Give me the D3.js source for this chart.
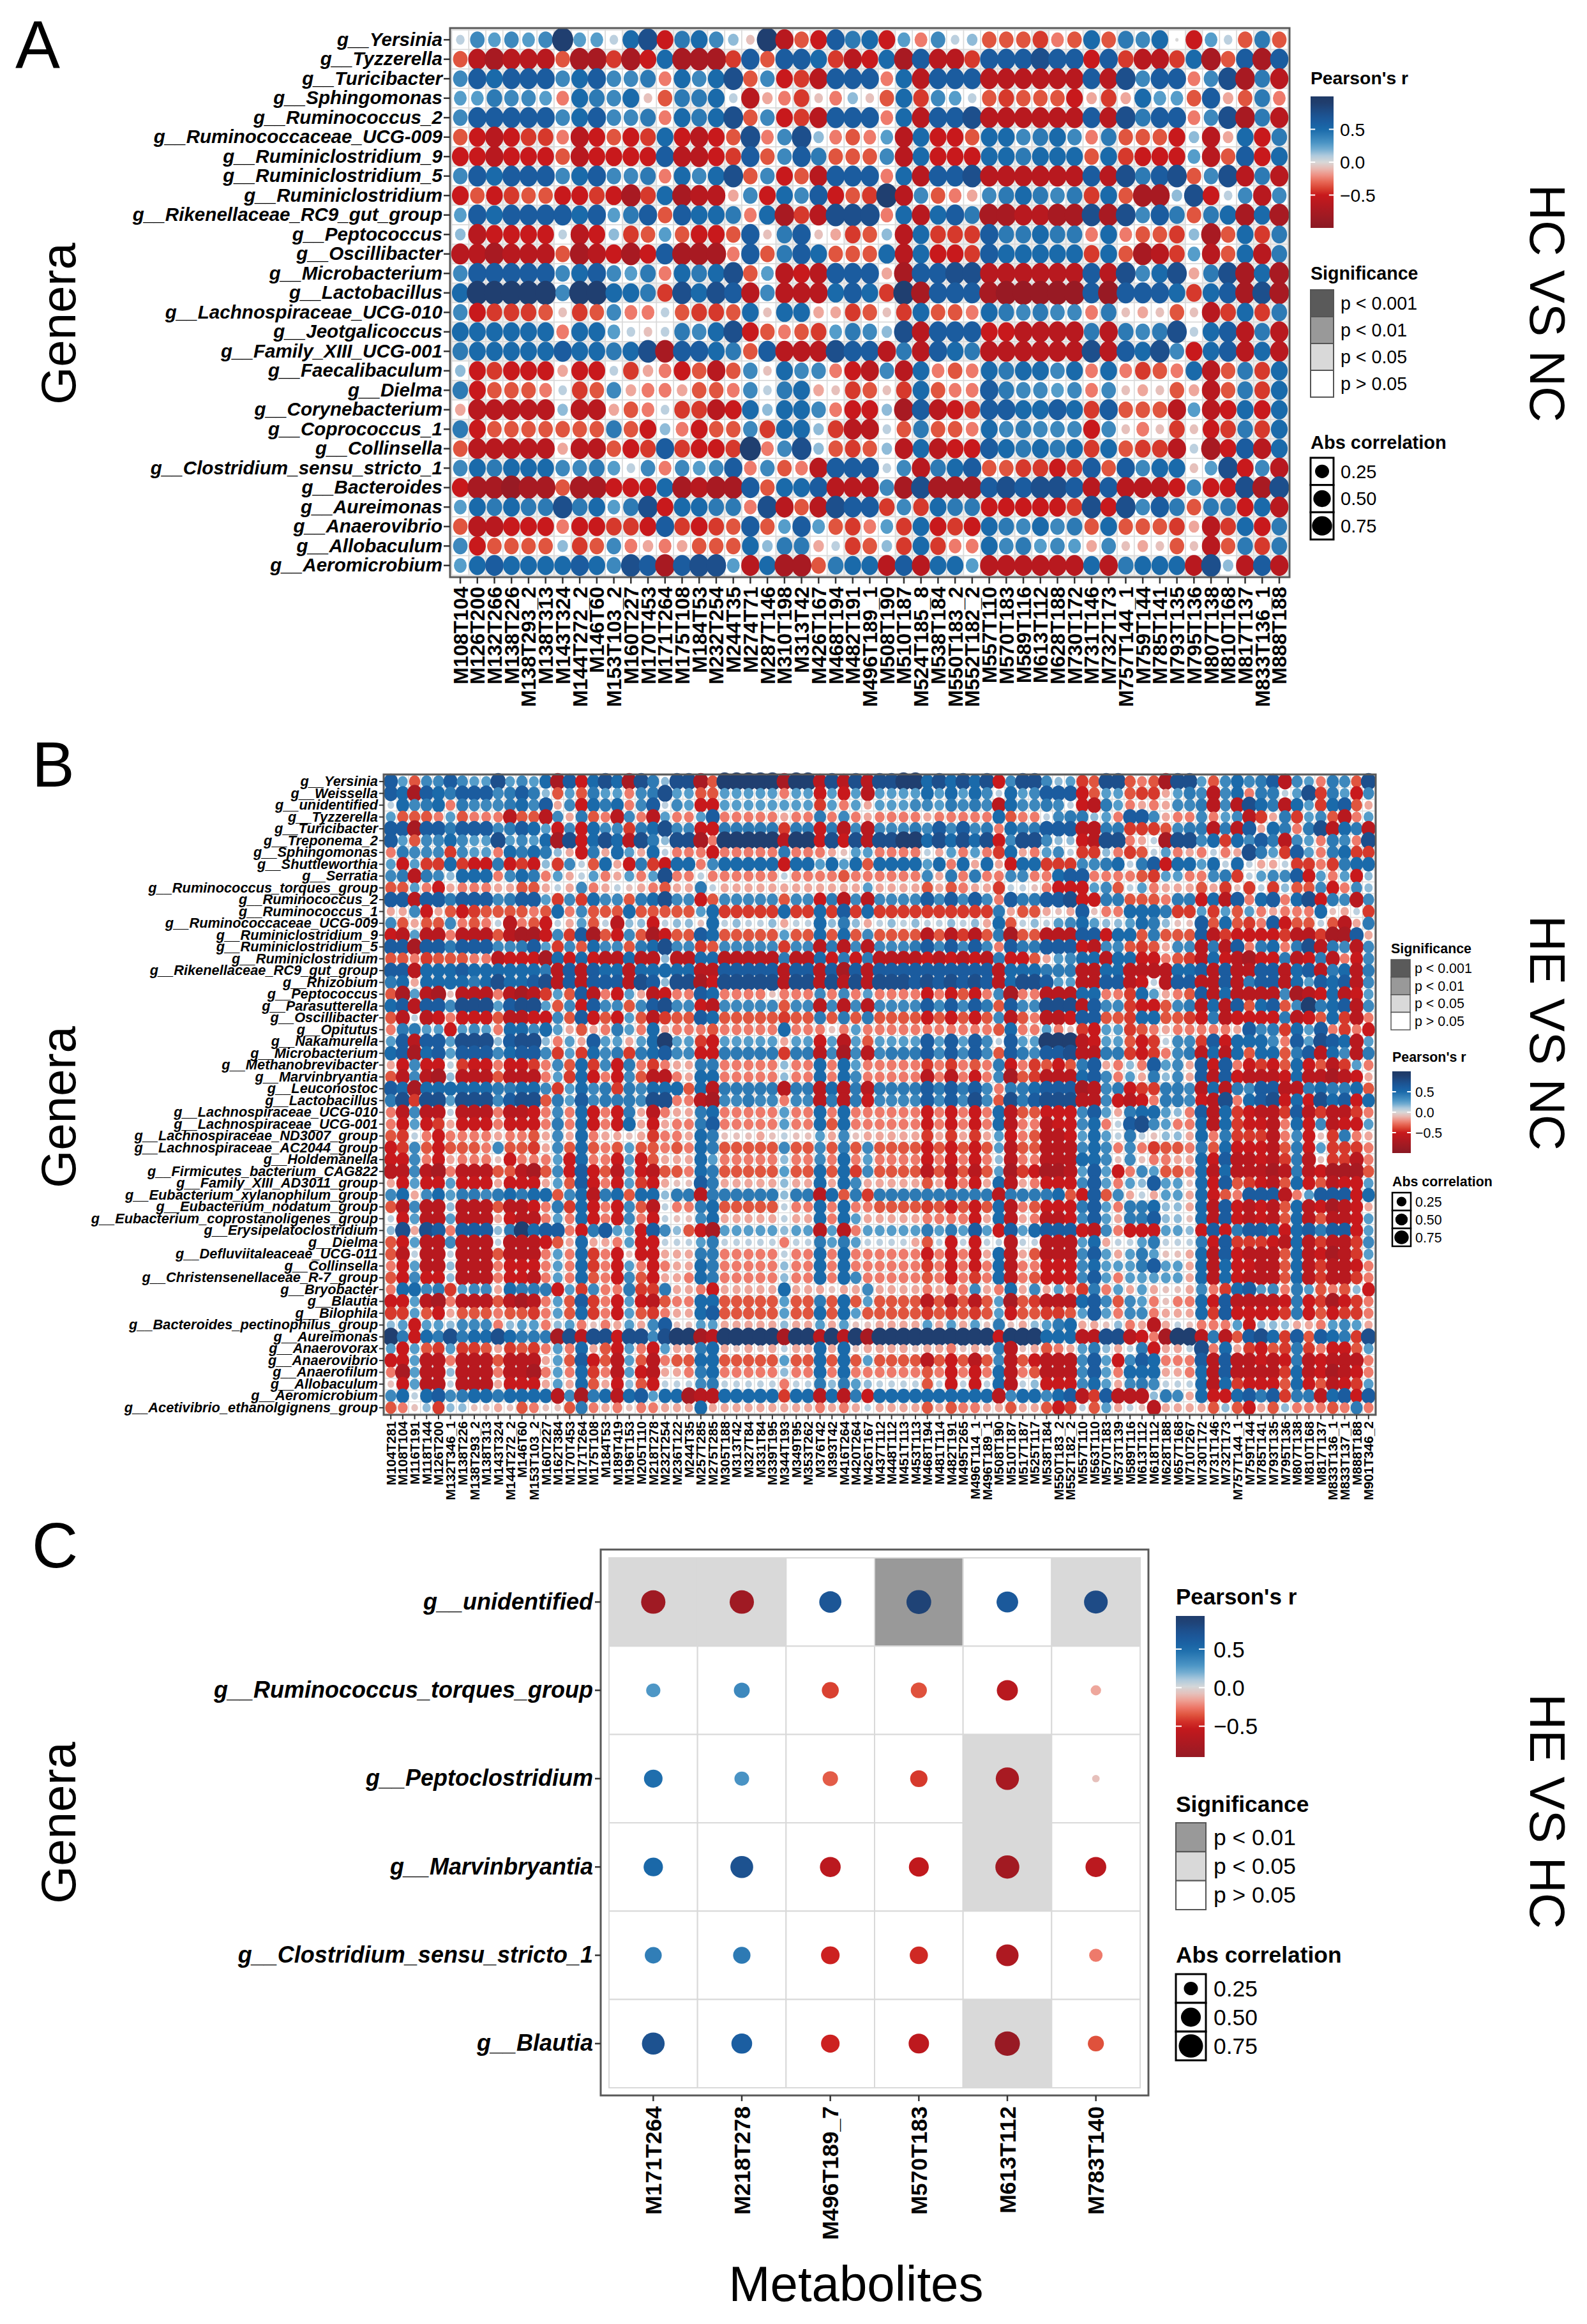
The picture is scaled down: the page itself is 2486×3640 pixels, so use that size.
<!DOCTYPE html>
<html><head><meta charset="utf-8">
<script src="https://cdn.jsdelivr.net/npm/d3@7/dist/d3.min.js"></script>
<style>html,body{margin:0;padding:0;background:#fff}svg{display:block}text{font-family:"Liberation Sans",Arial,sans-serif;fill:#000}</style>
</head><body><script>
// Panel A
const rowsA=["g__Yersinia","g__Tyzzerella","g__Turicibacter","g__Sphingomonas","g__Ruminococcus_2","g__Ruminococcaceae_UCG-009","g__Ruminiclostridium_9","g__Ruminiclostridium_5","g__Ruminiclostridium","g__Rikenellaceae_RC9_gut_group","g__Peptococcus","g__Oscillibacter","g__Microbacterium","g__Lactobacillus","g__Lachnospiraceae_UCG-010","g__Jeotgalicoccus","g__Family_XIII_UCG-001","g__Faecalibaculum","g__Dielma","g__Corynebacterium","g__Coprococcus_1","g__Collinsella","g__Clostridium_sensu_stricto_1","g__Bacteroides","g__Aureimonas","g__Anaerovibrio","g__Allobaculum","g__Aeromicrobium"];
const colsA=["M108T104","M126T200","M132T266","M138T226","M138T293_2","M138T313","M143T324","M144T272_2","M146T60","M153T103_2","M160T227","M170T453","M171T264","M175T108","M184T53","M232T254","M244T35","M274T71","M287T146","M310T198","M313T42","M426T167","M468T194","M482T191","M496T189_1","M508T190","M510T187","M524T185_8","M538T184","M550T183_2","M552T182_2","M557T110","M570T183","M589T116","M613T112","M628T188","M730T172","M731T146","M732T173","M757T144_1","M759T144","M785T141","M793T135","M795T136","M807T138","M810T168","M817T137","M833T136_1","M888T188"];
// one character per cell: digits = positive r level, letters a..i = negative r level
const valuesA=[
"1434349331 68f5642a9g df756f3c41 2dddecd6d5 460f31d5d",
"dghgggdhhe hf6hhhe7d7 76egf6h7gg e777877f7e gge6hd7h7",
"4767774674 45c6468d4f eg777c6g77 7gggggg7g8 477c48h5g",
"335443c654 6ad5561gbc eac2ad6e43 1dedddfbeb 633d7bd5c",
"4777774674 45c6568d4f eg777c6g77 8gggggg7g8 577c48h5g",
"dfgfeecgfd fe6fgfd8c4 82cdc3g6ff d664564c5d ddf2gb6f5",
"ffgfffdgff ff7ggfe7d4 75ddd4g6ff f665666d6e fff3gd7f6",
"4767774674 45c6468d4f dg777c6g77 8gggggg7g8 578d48g5g",
"fdfeddffef he6hggb4f6 47fde9g4dc b456545e6d hh28f14g4",
"3767777673 57d7665c6h eg888c6g67 5hhgghh8h8 475d56h6h",
"2gffff1gf2 ed3dffd7a5 7abed2g6ee e755655c6c dde2hd6e5",
"gghgggdhgf hf7hhhc7d5 76ddd6g6ff e766666e6d hge3gd6g5",
"4777774674 35c6568d3g fg777bh778 8gggggg7g8 468b58h6h",
"6999994996 65e8687g4g gg676e9h77 7hiiiii7i7 776e67h8h",
"4feeedaed4 cc1deed6a6 6bbedae6dd c654544c5a badage6e5",
"666666c663 1a15468fdc de35428g77 7ffgggg5g5 458167g5g",
"5666667665 68h7765d7g gg877g5g76 5gggggg8g7 684f67g6g",
"2fefffbff1 ebcfdgd4a6 44cfg4g6cd c656646c6c edc6gd5e6",
"5fdddc1ed4 bccbddc415 6baedae6dc c754434c4a badbgd5e6",
"bggggg2ggb dc1eegf626 64cff2h7gf e776676e7d ddg3gf6f6",
"5fddddddd5 df2cfdd4e6 62egg1d5dd c645444f4a caeafe5e6",
"dgggggbggd fe7effe9c4 82ded2g6gf f765656e6d eeg1hf7g6",
"4656664453 14c4347c4d cg77714g56 7ddeefe7d7 466a38f4g",
"fhhihhdhhf ff6hghh7d6 67ggg4h8hh h787887g7g ggf4ff8h8",
"3656558563 58f6655c8g dg877e4e65 5fffffe8f8 475d55f6g",
"dggfffcffe ef7efed7d3 73dec3e6fe f654645d6d ddebge6f5",
"4fdddd2ed4 cbcbddd625 5b1ed2e6ec c645343b4a badagd5e5",
"3676666764 87h7883g6h hd566g7g66 3gggggg6g5 666g82g7g"];
// Panel B
const rowsB=["g__Yersinia","g__Weissella","g__unidentified","g__Tyzzerella","g__Turicibacter","g__Treponema_2","g__Sphingomonas","g__Shuttleworthia","g__Serratia","g__Ruminococcus_torques_group","g__Ruminococcus_2","g__Ruminococcus_1","g__Ruminococcaceae_UCG-009","g__Ruminiclostridium_9","g__Ruminiclostridium_5","g__Ruminiclostridium","g__Rikenellaceae_RC9_gut_group","g__Rhizobium","g__Peptococcus","g__Parasutterella","g__Oscillibacter","g__Opitutus","g__Nakamurella","g__Microbacterium","g__Methanobrevibacter","g__Marvinbryantia","g__Leuconostoc","g__Lactobacillus","g__Lachnospiraceae_UCG-010","g__Lachnospiraceae_UCG-001","g__Lachnospiraceae_ND3007_group","g__Lachnospiraceae_AC2044_group","g__Holdemanella","g__Firmicutes_bacterium_CAG822","g__Family_XIII_AD3011_group","g__Eubacterium_xylanophilum_group","g__Eubacterium_nodatum_group","g__Eubacterium_coprostanoligenes_group","g__Erysipelatoclostridium","g__Dielma","g__Defluviitaleaceae_UCG-011","g__Collinsella","g__Christensenellaceae_R-7_group","g__Bryobacter","g__Blautia","g__Bilophila","g__Bacteroides_pectinophilus_group","g__Aureimonas","g__Anaerovorax","g__Anaerovibrio","g__Anaerofilum","g__Allobaculum","g__Aeromicrobium","g__Acetivibrio_ethanolgignens_group"];
const colsB=["M104T281","M108T104","M116T191","M118T144","M126T200","M132T346_1","M138T226","M138T293_2","M138T313","M143T324","M144T272_2","M146T60","M153T103_2","M160T227","M162T384","M170T453","M171T264","M175T108","M184T53","M189T419","M196T153","M205T110","M218T278","M232T254","M236T122","M244T35","M257T285","M275T285","M305T188","M313T42","M327T84","M331T84","M339T195","M344T193","M349T95","M353T262","M376T42","M393T42","M416T264","M420T264","M426T167","M437T112","M448T112","M451T113","M453T113","M468T194","M481T114","M482T191","M495T265","M496T114_1","M496T189_1","M508T190","M510T187","M517T187","M525T117","M538T184","M550T183_2","M552T182_2","M557T110","M563T110","M570T183","M573T139","M589T116","M613T112","M618T112","M628T188","M657T168","M710T267","M730T172","M731T146","M732T173","M757T144_1","M759T144","M785T141","M793T135","M795T136","M807T138","M810T168","M817T137","M833T136_1","M833T137_1","M888T188","M901T346_2"];
const valuesB=[
"73d4474338 3436h7f686 h85288hd99 999h99g8g8 g88 99686868f4 88423ed88d cdh883d464 57g43c54d8",
"76h7657774 5752d3d533 c45833dd33 333c33f3f3 g33 3363636416 34777fd33d eeb354g46c 55138e53f4",
"16456c5444 5647b4f656 c47143ff33 333333e3c3 b33 34435454g6 44541fg53c bcb445g4g8 65g63e67db",
"3dddc3dccc gddg4b5dcg 4cg3cc37cc cccbcc5c4c bcc ccbccccc6d cc145523c7 74bcc4c34g eb5e34dgc3",
"77h7757774 5763f4f644 e56844ff55 555e55f5g4 g44 45474745c6 55777gg55e eed455g5g7 b65c58g65g",
"73d4464338 3436h8f686 g85288hc99 999g99f8f8 g88 99686868f4 88422fg88c b1h8846e64 75g43c54c8",
"c5444e433c 65652bf5b6 3b61cccfcc ccc5cccba3 3cc cc1b3c3ce6 bc341ee2ce d13cbc1cb8 53e73c56ee",
"3f3ee6eff5 fef2e41d6b f5ef66c466 666f663636 d66 6636c6b6bf 66eee44561 57f6636161 bb1eece566",
"45g542666c 465c3b13cb 3c38cc1ccc ccc1ccccdc ccc cc4b5c5cc4 4cc677cccc de33cc45e1 3447f3c3f2",
"dd3cfbcccb bddb1b4cb1 abcdbb51bb bbbbbbbbbb 3bb bbdbdcbbe1 1acfff34d1 3cbbbdbeae 1e2dd4fc42",
"77g7757774 5773e4e644 d56844fd44 444d44f5g4 g44 44747474c7 55778ff55d ddc55f6g7c 67c68f54g4",
"bb4fbdfedd ddcd6c4ddd 6ddddd36ee eee6ee6e7e 6ee eeeeeeee5b ddbab7acc6 665ee3e3d3 cbccc6ab1e",
"4dbdd4cdc1 gcdf1b3d1g 22f122a612 112b116252 b12 1211212b6d 1213463223 652aa7d6de c7fdd1dgb5",
"fg3ggcgggd ghhf4e7hdf 4dhfdd76dd ddd3dd6d6d 4dd ddgdgegd5h ddggg77f66 d5ddd7geff ffeggehh7b",
"77h7757774 4573e4d644 d56844ed44 444e44g5g4 g44 45747474c7 55777fg44d edb44g5g7c 56c58g54g4",
"ddcedddccg fffh6f6fgg 6gg2gg66gg ggg5gg6f5f 5gg ggfgfgfg5f fdb3466g66 ffcdeg6fgh ff5gf5gcf4",
"77g6667666 6665g7g766 g66666gg77 777g77g7h7 g77 77777777g6 66555gg66g ggg667g7gg 77g67g56g5",
"56b6666568 6678g7g777 g87288hf88 888g88g8g8 g88 87878787g6 88733gg77g f1g77gg7g5 77g63767g4",
"dh3ghagggc ghge3d7gcf 3bgfcc76cc ccaccc4c4c 3cc ccfcfdfc4h ccggg66cce 63bcd7g6gg gg4hgf6gf3",
"67g7748883 7883d4f744 d47844fg44 444d44g4g4 g44 44747475d7 44888g744e ffd45g6g7d 67d49567g4",
"dg1gfcfffd ggff4d7fdf 3dgedd76dd dddedd5d5d 5dd ddfdfdfd4g dcggf77dde 66ddef5gff ff5gfd6egc",
"c5533f343c 66463bdbc5 3c6bcccdcc ccc6cccac3 ccc ccccccccd6 cc3caef33e dcbcccccb7 45e637cecf",
"37g7738882 7882c3b733 b36933ef33 333b33f3g3 d33 3373737417 33999gf33d fe144e7f66 64c73876g3",
"67h6737774 6774e3e645 e56744ff55 555e55g4h4 g45 55747474d7 54778gg55e fec45g6g6d 66d57g64g5",
"bf4ff1effc ffec4d6e4f 5cecbb55cc ccc2cc6c63 cccccececd c5fcedfd57 bc2c734b7f 7cfefd6fdg e3c",
"dg4gh2gggd gggc3e6fcf 4dggcb66cc ccc2cc6c64 cccccgcgcf c4hdeggg67 4c3b524b7g 7fgggf6ggh gfb",
"76h6666665 5664e3645e 54666d6g55 555g55g6g5 g555575757 4c556777hg 45fee554g6 g5477gg565 56d",
"58e8838884 788d537455 5488ccgh44 544c44g5g5 f444474748 4d857888gg 4fgfc554fg 8c678f6f86 7f6",
"cg4gg1gggc ggfc4c6fcf 5bgcbb56cc ccc3cc6c6c cccccfcfcf c6gddfff47 3b56632c7g 6efgge7geg gec",
"cf3febfffc fffc5c6fcf 6bfbcc57cc ccc3cc6d6c cccccfcfcf c6gccgff46 c17843cc6g 6effgc6f4g ff3",
"de1cfccccb ccdb4b6cbb abeccb65aa aba1aa3b4a bbbbbebebe b3fcdggf36 3151a22b6c 5eeegc4fae 5cb",
"fe4dfdddc4 ddeb4d6dcd 3ddcdc65dd ddd4dd4d5d 4ddddfdfdf d3gddggg46 4c4ceddc5d 6fffgd5f3e eec",
"ff4cfbccca fccc3f6ccf 3fdbbb63cc ccc2cc4c6c 3ccccfcfcf c2gccggg66 4a4accbb6f 7ggfge5gae egc",
"gg4ghcgggd dghd4f7fdg 3fgddc65dd ddd3dd6d6e 4ddddgdgdg d3hefhhg37 3fc43ddc6g 6ggghg5gfh hhd",
"bf3ff3fffb fffb3d7fcf 3efbaa75bb bbb2bb6b64 bbbbbdbfcf b6gbcfff47 3c32733a6f 7defgd6fdg ff3",
"46b4635545 6566d46g56 d66255g555 555255g6d5 e555555555 5g55556df7 d4b1b33b6f dc777gc377 7f6",
"dg4gg2gggd ggfc5e6fcf 4dg1cc56dd ddd1cc6c6c cddddedfdf d6gcdfff57 3c55622b6g 7fgfgd6gfh gfb",
"1f3gg3gggb fggc3c6fcf 4cf1aa46bb bbb1bb6c63 bbbbbccccf b6gbcggf47 3b55722a6g 7fgfgd6gdg gf3",
"28b87c7772 59677cf573 3f742dfh33 333233g3gc 3333353537 3f736777fg 4cfff332f7 f5776f6757 7f3",
"df3gg4ggg1 gggfdb6bbc 3ff1113511 111c115353 1111bd1f1f 11g11ggg36 b11351115f 7eeefg6geg ge4",
"dg1gg1gggd gggc3c6ecf affbbb55cc ccc1cc6c6c cccccfcfcf b6gbdggg47 3b353aab6g 7fgggd6gfh ge3",
"cf3gg2gggc fffc3c6ecf 3cfcbb65cc ccc2cc6c6c cccccecfcf c6gccfff46 3335733b6g 6ffggd6geg gfc",
"df4ff2gggc ffgc3c6dcf 4dfbbc65cc ccc2cc6c64 cccccdcfce c6gcdfff47 3c33333b6g 6fgggd6geg gec",
"c6645e344b 6555f3e4cc 5ee5bbcfbb bbb6bbbabb 4bbbbcbcc4 bc6b4b3ce5 c3b3baab4c e6734c53dc d2f",
"ff3ghcgggd ghgc3d7ecf 3fgdcc66dd ddd3dd5d6d 3ddddgdgdg d3hdeggg67 4d43cacc6f 7ggggf5feh fec",
"ee3dfbdddc ddec3d6ecf 3decbb67dd ddd3dd6d63 dddddedede d3fddeed37 3c44cbbb6e 7ffffe5fdf eec",
"23f332444c 233c23cacb 3b47aa33bb bbb2bb3b3a abbbb3b3b3 a5ab2356bb a2cbgb1acc c3f222bbc3 43b",
"95f6585668 6555h8g88f 884899hg99 999h99g9g9 h999999999 9f999666gg 88gfch99g5 gd786e7d76 5e8",
"3f3de3eedb edec3c6bdf 3cf3bb56ba bab1bb6b6a bbbbabbcab a5gabdcb35 2b15fbb18c 6befde5ecf fd3",
"ff3ggcgggd gggb3d7fdg 3dgcdd66dd ddd3dd6d6d 3ddddgdfdg d4gdfggg47 3f476ccc7g 7ggfgf5gfg ggc",
"ch3gg2gggc gghc3c6ecg 3fgbbc56cc ccc2cc6c6c cccccdcfcf c6gcdggg47 3c666bbc6g 7gggge6gfh gfc",
"af3gg1gggb fffb3b6dbf 2df1114511 111c115253 21111d1f1f 16g12fff46 3b4541116g 6efffd6fdg fe3",
"4616745665 6666g4h56g 67366hgg66 666e66g6g5 f666666666 6g466467ge 7ggg254b6f f6757e55g6 7f7",
"dca2e22aab adcaad5cbc accbbb6bbb bbbbbbcbcb 1bbbbdbdcc bbdbbdfe1d 3b1agbbbbd 2dfbd2cccd c5c"];
// Panel C
const rowsC=["g__unidentified","g__Ruminococcus_torques_group","g__Peptoclostridium","g__Marvinbryantia","g__Clostridium_sensu_stricto_1","g__Blautia"];
const colsC=["M171T264","M218T278","M496T189_7","M570T183","M613T112","M783T140"];
const valuesC=[
[-.82,-.82,.68,.85,.65,.78],
[.28,.35,-.4,-.36,-.62,-.15],
[.48,.3,-.33,-.42,-.75,-.08],
[.52,.72,-.6,-.55,-.8,-.6],
[.4,.42,-.48,-.46,-.7,-.25],
[.72,.6,-.48,-.58,-.88,-.36]];
const sigC=[
[2,2,0,3,0,2],
[0,0,0,0,0,0],
[0,0,0,0,2,0],
[0,0,0,0,2,0],
[0,0,0,0,0,0],
[0,0,0,0,2,0]];
const levels=[0,.08,.15,.25,.35,.42,.5,.62,.75,.88];
const sigColors=["#ffffff","#ffffff","#d9d9d9","#999999","#5a5a5a"];
const sigLabels3=["p < 0.01","p < 0.05","p > 0.05"];
const sigFills3=["#999999","#d9d9d9","#ffffff"];
const sigLabels4=["p < 0.001","p < 0.01","p < 0.05","p > 0.05"];
const sigFills4=["#5a5a5a","#999999","#d9d9d9","#ffffff"];
const colorTicks=[.5,0,-.5];
const sizeTicks=[.25,.5,.75];

const color=d3.scaleLinear()
 .domain([-1,-.88,-.62,-.5,-.42,-.35,-.25,-.15,-.08,0,.08,.15,.25,.35,.5,.62,.75,.88,1])
 .range(["#8a1822","#981a24","#b8191f","#c8191c","#d6392c","#e0553f","#ee7a6b","#eea79c","#e6c0bb","#d8d8d8","#bcd0df","#8fbbd8","#559dca","#3d88bd","#1a6aaa","#1b5c9f","#1d4f8c","#203f70","#1f3a66"]);
const decode=s=>s.replace(/ /g,"").split("").map(c=>{
  if(c>="0"&&c<="9")return levels[+c];
  return -levels["abcdefghi".indexOf(c)+1];
});
const W=2486,H=3640;
const svg=d3.select("body").append("svg").attr("width",W).attr("height",H).attr("viewBox",`0 0 ${W} ${H}`);
svg.append("rect").attr("width",W).attr("height",H).attr("fill","#fff");

function panel(o){
  const g=svg.append("g");
  const x=d3.scaleBand().domain(o.cols).range([o.L,o.R]).paddingInner(0).paddingOuter(o.pad);
  const y=d3.scaleBand().domain(o.rows).range([o.T,o.B]).paddingInner(0).paddingOuter(o.pad);
  const cells=[];
  o.values.forEach((arr,i)=>arr.forEach((v,j)=>{if(o.cols[j]!==undefined)cells.push({r:o.rows[i],c:o.cols[j],v,s:o.sig?o.sig[i][j]:(Math.abs(v)>=.42?1.5:0)})}));
  g.append("g").selectAll("rect").data(cells).join("rect")
    .attr("x",d=>x(d.c)).attr("y",d=>y(d.r)).attr("width",x.bandwidth()).attr("height",y.bandwidth())
    .attr("fill",d=>d.s===1.5?"#eeeeee":sigColors[d.s]).attr("stroke","#d9d9d9").attr("stroke-width",o.grid);
  g.append("g").selectAll("ellipse").data(cells).join("ellipse")
    .attr("cx",d=>x(d.c)+x.bandwidth()/2).attr("cy",d=>y(d.r)+y.bandwidth()/2)
    .attr("rx",d=>o.size(Math.abs(d.v))/2).attr("ry",d=>o.size(Math.abs(d.v))/2*o.aspect)
    .attr("fill",d=>color(d.v));
  g.append("rect").attr("x",o.OL??o.L).attr("y",o.OT??o.T).attr("width",(o.OR??o.R)-(o.OL??o.L)).attr("height",(o.OB??o.B)-(o.OT??o.T))
    .attr("fill","none").attr("stroke","#595959").attr("stroke-width",o.bw);
  const ax=g.append("g").attr("transform",`translate(${o.OL??o.L},0)`).call(d3.axisLeft(y).tickSize(o.tick).tickPadding(o.ypad));
  ax.select(".domain").remove();
  ax.selectAll("line").attr("stroke","#333").attr("stroke-width",o.tw);
  ax.selectAll("text").style("font-size",o.yfs+"px").style("font-weight","bold").style("font-style","italic").attr("fill","#000");
  const bx=g.append("g").attr("transform",`translate(0,${o.OB??o.B})`).call(d3.axisBottom(x).tickSize(o.tick));
  bx.select(".domain").remove();
  bx.selectAll("line").attr("stroke","#333").attr("stroke-width",o.tw);
  bx.selectAll("text").attr("transform","rotate(-90)").attr("text-anchor","end")
    .attr("x",-(o.tick+o.xpad)).attr("y",0).attr("dy",".36em")
    .style("font-size",o.xfs+"px").style("font-weight","bold").attr("fill","#000");
}
panel({rows:rowsA,cols:colsA,values:valuesA.map(decode),L:705,R:2020,T:44,B:904,pad:.1,grid:1.5,bw:3,
  size:r=>5+30*Math.sqrt(r),aspect:1.15,tick:10,tw:2.5,ypad:2,yfs:29.6,xpad:5,xfs:32});
panel({rows:rowsB,cols:colsB,values:valuesB.map(decode),L:601,R:2155,T:1213,B:2216,pad:.1,grid:1.2,bw:3,
  size:r=>4+23*Math.sqrt(r),aspect:1.12,tick:7,tw:2,ypad:2,yfs:21.8,xpad:3,xfs:21});
panel({rows:rowsC,cols:colsC,values:valuesC,sig:sigC,L:954,R:1786,T:2440,B:3270,OL:941,OR:1799,OT:2427,OB:3282,pad:0,grid:2,bw:3,
  size:r=>42*Math.sqrt(r),aspect:.97,tick:9,tw:2.5,ypad:3,yfs:36,xpad:8,xfs:35.5});

function txt(t,x,y,fs,opt={}){
  const n=svg.append("text").attr("x",x).attr("y",y).style("font-size",fs+"px").text(t);
  if(opt.bold)n.style("font-weight","bold");
  if(opt.anchor)n.attr("text-anchor",opt.anchor);
  if(opt.rot!==undefined)n.attr("transform",`rotate(${opt.rot},${x},${y})`);
  return n;
}
txt("A",24,106,105);txt("B",50,1232,100);txt("C",50,2455,100);
txt("Genera",118,507,76,{rot:-90,anchor:"middle"});
txt("Genera",118,1734,76,{rot:-90,anchor:"middle"});
txt("Genera",118,2855,76,{rot:-90,anchor:"middle"});
txt("Metabolites",1341,3604,78,{anchor:"middle"});
txt("HC VS NC",2397,475,78,{rot:90,anchor:"middle"});
txt("HE VS NC",2397,1618,78,{rot:90,anchor:"middle"});
txt("HE VS HC",2397,2837,78,{rot:90,anchor:"middle"});

const defsRoot=svg.append("defs");
let gid=0;
function colorbar(o){
  txt("Pearson's r",o.x,o.titleY,o.fs,{bold:true});
  const yS=d3.scaleLinear().domain([o.hi,o.lo]).range([o.top,o.bottom]);
  const id="grad"+(gid++);
  const grad=defsRoot.append("linearGradient").attr("id",id).attr("x1",0).attr("x2",0).attr("y1",0).attr("y2",1);
  d3.range(0,1.0001,.05).forEach(t=>{grad.append("stop").attr("offset",t).attr("stop-color",color(o.hi+(o.lo-o.hi)*t));});
  svg.append("rect").attr("x",o.x).attr("y",o.top).attr("width",o.w).attr("height",o.bottom-o.top).attr("fill",`url(#${id})`);
  const ax=svg.append("g").selectAll("g").data(colorTicks).join("g");
  ax.append("line").attr("x1",o.x).attr("x2",o.x+o.w/5).attr("y1",d=>yS(d)).attr("y2",d=>yS(d)).attr("stroke","#fff").attr("stroke-width",2);
  ax.append("line").attr("x1",o.x+o.w*.8).attr("x2",o.x+o.w).attr("y1",d=>yS(d)).attr("y2",d=>yS(d)).attr("stroke","#fff").attr("stroke-width",2);
  ax.append("text").attr("x",o.lx).attr("y",d=>yS(d)).attr("dy",".36em").style("font-size",o.fs+"px").text(d=>d3.format(".1f")(d).replace("-","\u2212"));
}
function sigLegend(o){
  txt("Significance",o.x,o.titleY,o.fs,{bold:true});
  const y=d3.scaleBand().domain(o.labels).range([o.top,o.bottom]);
  const g=svg.append("g").selectAll("g").data(o.labels).join("g");
  g.append("rect").attr("x",o.x).attr("y",d=>y(d)).attr("width",o.w).attr("height",y.bandwidth())
    .attr("fill",(d,i)=>o.fills[i]).attr("stroke","#555").attr("stroke-width",o.sw);
  g.append("text").attr("x",o.lx).attr("y",d=>y(d)+y.bandwidth()/2).attr("dy",".34em").style("font-size",o.fs+"px").text(d=>d);
}
function absLegend(o){
  txt("Abs correlation",o.x,o.titleY,o.fs,{bold:true});
  const labs=sizeTicks.map(d3.format(".2f"));
  const y=d3.scaleBand().domain(sizeTicks).range([o.top,o.bottom]);
  const g=svg.append("g").selectAll("g").data(sizeTicks).join("g");
  g.append("rect").attr("x",o.x).attr("y",d=>y(d)).attr("width",o.w).attr("height",y.bandwidth()).attr("fill","#fff").attr("stroke","#000").attr("stroke-width",o.sw);
  g.append("ellipse").attr("cx",o.x+o.w/2).attr("cy",d=>y(d)+y.bandwidth()/2).attr("rx",d=>o.size(d)/2).attr("ry",d=>o.size(d)/2*.96).attr("fill","#000");
  g.append("text").attr("x",o.lx).attr("y",d=>y(d)+y.bandwidth()/2).attr("dy",".36em").style("font-size",o.fs+"px").text((d,i)=>labs[i]);
}
// legends A
colorbar({x:2053,w:36,top:151,bottom:357,hi:1,lo:-1,titleY:132,fs:28.3,lx:2099});
sigLegend({x:2053,w:36,top:454,bottom:622,labels:sigLabels4,fills:sigFills4,titleY:438,fs:28.6,lx:2100,sw:2});
absLegend({x:2053,w:36,top:717,bottom:845,titleY:703,fs:29,lx:2100,sw:3,size:r=>9+26*Math.sqrt(r)});
// legends B
sigLegend({x:2179,w:30,top:1503,bottom:1613,labels:sigLabels4,fills:sigFills4,titleY:1493,fs:21.4,lx:2216,sw:1.5});
colorbar({x:2181,w:29,top:1678,bottom:1806,hi:1,lo:-1,titleY:1663,fs:21.4,lx:2217});
absLegend({x:2181,w:29,top:1868,bottom:1952,titleY:1858,fs:21.4,lx:2217,sw:2.5,size:r=>6+19*Math.sqrt(r)});
// legends C
colorbar({x:1842,w:45,top:2531,bottom:2752,hi:.93,lo:-.9,titleY:2513,fs:35,lx:1901});
sigLegend({x:1842,w:47,top:2855,bottom:2991,labels:sigLabels3,fills:sigFills3,titleY:2838,fs:35.4,lx:1901,sw:2});
absLegend({x:1842,w:47,top:3092,bottom:3227,titleY:3074,fs:35.4,lx:1901,sw:3,size:r=>44*Math.sqrt(r)});
</script></body></html>
